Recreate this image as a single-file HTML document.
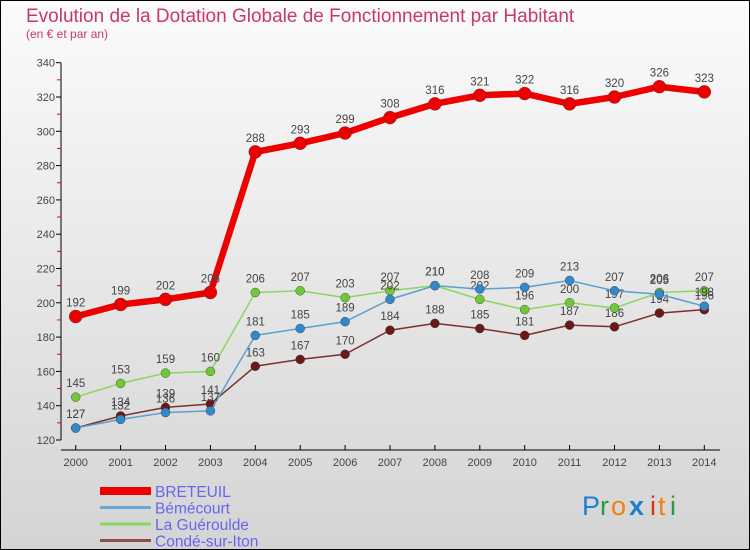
<!DOCTYPE html>
<html><head><meta charset="utf-8"><style>
body{margin:0;}
#wrap{position:relative;width:750px;height:550px;overflow:hidden;font-family:"Liberation Sans","DejaVu Sans",sans-serif;}
svg text{font-family:"Liberation Sans","DejaVu Sans",sans-serif;}
</style></head><body>
<div id="wrap">
<svg id="chart" width="750" height="550" xmlns="http://www.w3.org/2000/svg">
<defs><linearGradient id="bg" x1="0" y1="0" x2="0" y2="1"><stop offset="0" stop-color="#fbfbfb"/><stop offset="1" stop-color="#d4d4d4"/></linearGradient></defs>
<rect x="0.5" y="0.5" width="749" height="549" fill="url(#bg)" stroke="#000"/>
<text x="26" y="22" font-size="19" fill="#c8386a">Evolution de la Dotation Globale de Fonctionnement par Habitant</text>
<text x="26" y="38" font-size="12" fill="#c8386a">(en € et par an)</text>
<g id="axes"></g><g id="series"></g><g id="legend"></g>
<g font-size="27">
<text x="582" y="515" fill="#1a7fd4">P</text><text x="600" y="515" fill="#2a9a3a">r</text><text x="611" y="515" fill="#f08010">o</text><text x="629" y="515" fill="#1a7fd4" font-weight="bold">x</text><text x="650" y="515" fill="#e03010">i</text><text x="658" y="515" fill="#f08010">t</text><text x="670" y="515" fill="#2a9a3a">i</text>
</g>
</svg></div>
<script>
const years=[2000,2001,2002,2003,2004,2005,2006,2007,2008,2009,2010,2011,2012,2013,2014];
const breteuil=[192,199,202,206,288,293,299,308,316,321,322,316,320,326,323];
const bemecourt=[127,132,136,137,181,185,189,202,210,208,209,213,207,205,198];
const gueroulde=[145,153,159,160,206,207,203,207,210,202,196,200,197,206,207];
const conde=[127,134,139,141,163,167,170,184,188,185,181,187,186,194,196];
const yTicks=[120,140,160,180,200,220,240,260,280,300,320,340];
const seriesNames=["BRETEUIL","Bémécourt","La Guéroulde","Condé-sur-Iton"];
const NS="http://www.w3.org/2000/svg";
const x=i=>75.7+i*44.9;
const y=v=>440-(v-120)*(34.3/20);
function mk(tag,attrs,parent){const e=document.createElementNS(NS,tag);for(const k in attrs)e.setAttribute(k,attrs[k]);parent.appendChild(e);return e;}
const ax=document.getElementById('axes');
let l=mk('line',{x1:61,y1:y(340),x2:61,y2:y(120),stroke:'#000'},ax);


l=mk('line',{x1:61,y1:450,x2:720,y2:450,stroke:'#000'},ax);


yTicks.forEach((t,i)=>{
  mk('line',{x1:56,y1:y(t),x2:61,y2:y(t),stroke:'#000'},ax);
  if(i<yTicks.length-1) mk('line',{x1:57,y1:y(t+10),x2:61,y2:y(t+10),stroke:'#e00'},ax);
  const tx=mk('text',{x:55,y:y(t)+4,'font-size':11,'text-anchor':'end',fill:'#444'},ax);
  tx.textContent=t;
  
  
});
years.forEach((yr,i)=>{
  mk('line',{x1:x(i),y1:445,x2:x(i),y2:450,stroke:'#000'},ax);
  const tx=mk('text',{x:x(i),y:466,'font-size':11,'text-anchor':'middle',fill:'#444'},ax);
  tx.textContent=yr;
  
  
});
const sg=document.getElementById('series');
const defs=[[conde,'#7a3030','#6a1818',1.5,4.5,'conde'],[gueroulde,'#88d860','#70c838',1.5,4.5,'gueroulde'],[bemecourt,'#5aa0d0','#3388cc',1.5,4.5,'bemecourt'],[breteuil,'#ee0000','#ee0000',6.5,6.5,'breteuil']];
defs.forEach(([d,lc,pc,w,r,nm])=>{
  const g=mk('g',{},sg);
  
  
  const p=mk('polyline',{points:d.map((v,i)=>x(i)+','+y(v)).join(' '),fill:'none',stroke:lc,'stroke-width':w,'stroke-linejoin':'round'},g);
  
  
  d.forEach((v,i)=>{
    const c=mk('circle',{cx:x(i),cy:y(v),r:r,fill:pc,stroke:'#333','stroke-width':0.4},g);
    
    
    const t=mk('text',{x:x(i),y:y(v)-10,'font-size':11.5,'text-anchor':'middle',fill:'#444'},g);
    t.textContent=v;
    
    
  });
});
const lg=document.getElementById('legend');
const lcol=['#ee0000','#6aa8d8','#88d860','#8a5050'],lw=[8,3,3,3];
seriesNames.forEach((n,i)=>{
  const yy=491+i*16.5;
  const g=mk('g',{},lg);
  
  
  mk('line',{x1:100,y1:yy,x2:151,y2:yy,stroke:lcol[i],'stroke-width':lw[i]},g);
  const t=mk('text',{x:155,y:yy+6,'font-size':15.5,fill:'#6666ee'},g);
  t.textContent=n;
});
</script>
</body></html>
